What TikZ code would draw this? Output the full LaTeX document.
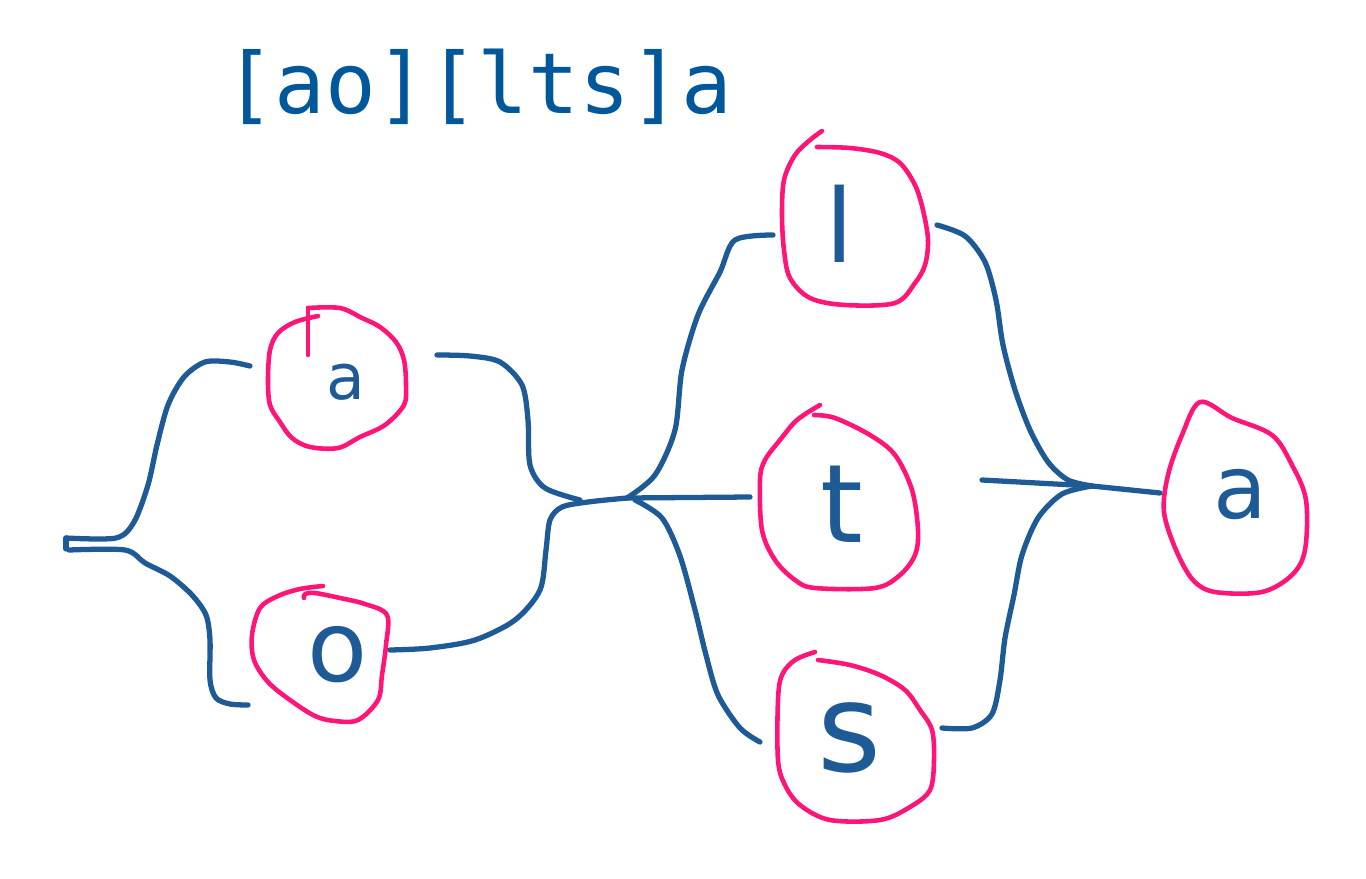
\documentclass[tikz,border=0pt]{standalone}
\usepackage{fontspec}
\setmainfont{DejaVu Sans}
\setmonofont{DejaVu Sans Mono}
\usetikzlibrary{calc}
\definecolor{wire}{RGB}{30,90,150}
\definecolor{ink}{RGB}{0,88,155}
\definecolor{ring}{RGB}{255,20,120}
\begin{document}
\begin{tikzpicture}[x=0.02cm,y=-0.02cm,
  wire/.style={draw=wire,line width=3pt,line cap=round,line join=round},
  ring/.style={draw=ring,line width=2.6pt,line cap=round,line join=round},
  letter/.style={text=wire,inner sep=0pt}]
\useasboundingbox (0,0) rectangle (1366,879);

% title
\node[text=ink,font=\ttfamily\fontsize{48}{52}\selectfont,anchor=base] (title) at (478,113) {[ao][lts]a};

% ring outlines (hand drawn, open at the top)
\draw[ring] (308,355) -- (308,308);
\draw[ring] plot[smooth,tension=0.55] coordinates {(308,308) (340,308) (362,318) (380,327) (396,342) (404,360) (406,385) (404,405) (385,425) (360,437) (338,448) (310,447) (292,438) (280,422) (270,405) (268,380) (270,350) (278,333) (295,322) (318,316)};
\draw[ring] plot[smooth,tension=0.55] coordinates {(323,586) (300,589) (278,596) (260,608) (252,635) (254,660) (268,682) (290,700) (315,716) (335,721) (358,720) (378,700) (382,675) (386,645) (387,615) (365,604) (340,598) (315,593) (305,594) (304,598)};
\draw[ring] plot[smooth,tension=0.55] coordinates {(817,147) (850,148) (880,153) (900,163) (915,185) (923,210) (928,240) (925,265) (915,283) (895,303) (845,305) (810,298) (790,278) (784,250) (782,215) (784,180) (795,155) (810,140) (822,131)};
\draw[ring] plot[smooth,tension=0.55] coordinates {(814,415) (835,418) (870,435) (895,455) (912,490) (918,530) (915,555) (900,575) (875,588) (815,588) (795,580) (775,560) (762,530) (760,480) (765,460) (780,440) (797,420) (820,405)};
\draw[ring] plot[smooth,tension=0.55] coordinates {(818,660) (850,665) (880,675) (905,690) (920,710) (932,730) (934,760) (930,790) (910,807) (880,820) (830,820) (800,805) (785,785) (778,760) (778,700) (782,675) (795,660) (815,652)};
\draw[ring] plot[smooth cycle,tension=0.55] coordinates {(1200,402) (1232,418) (1272,435) (1292,465) (1306,500) (1305,550) (1292,575) (1262,592) (1215,592) (1193,580) (1176,550) (1164,512) (1168,475) (1182,435)};

% letters
\node[letter,font=\fontsize{36}{36}\selectfont] (a1) at (346,382) {a};
\node[letter,font=\fontsize{56}{56}\selectfont] (o) at (338,655) {o};
\node[letter,font=\fontsize{58}{58}\selectfont] (l) at (840,224) {l};
\node[letter,font=\fontsize{62}{62}\selectfont] (t) at (842,504) {t};
\node[letter,font=\fontsize{70}{70}\selectfont] (s) at (850,738) {s};
\node[letter,font=\fontsize{50}{50}\selectfont] (a2) at (1240,495) {a};

% connector end points
\coordinate (start) at (66,543);
\coordinate (a1in) at (250,366);
\coordinate (a1out) at (437,355);
\coordinate (oin) at (248,705);
\coordinate (oout) at (390,650);
\coordinate (j1) at (627,498);
\coordinate (lin) at (773,235);
\coordinate (tin) at (750,497);
\coordinate (sin) at (760,742);
\coordinate (lout) at (937,225);
\coordinate (tout) at (982,480);
\coordinate (sout) at (942,728);
\coordinate (j2) at (1092,486);
\coordinate (a2in) at (1160,493);

% connectors
\draw[wire] ($(start)+(0,-5)$) -- ($(start)+(0,6)$);
\draw[wire] plot[smooth,tension=0.5] coordinates {($(start)+(0,-5)$) (116,538) (134,522) (148,485) (157,445) (168,405) (184,377) (205,362) (230,362) (a1in)};
\draw[wire] plot[smooth,tension=0.5] coordinates {($(start)+(3,7)$) (125,550) (145,563) (170,576) (192,595) (206,615) (210,640) (210,680) (216,698) (230,704) (oin)};
\draw[wire] plot[smooth,tension=0.5] coordinates {(a1out) (470,356) (500,362) (522,385) (528,420) (530,465) (545,488) (580,500)};
\draw[wire] plot[smooth,tension=0.5] coordinates {(oout) (430,648) (475,640) (515,620) (540,590) (546,550) (550,520) (562,507) (588,502) (j1)};
\draw[wire] plot[smooth,tension=0.5] coordinates {(j1) (655,475) (675,430) (682,370) (698,315) (720,272) (735,240) (lin)};
\draw[wire] (j1) -- (tin);
\draw[wire] plot[smooth,tension=0.5] coordinates {(635,500) (662,518) (680,556) (695,610) (706,655) (718,695) (740,728) (sin)};
\draw[wire] plot[smooth,tension=0.5] coordinates {(lout) (965,236) (985,262) (996,300) (1003,345) (1015,390) (1030,430) (1048,462) (1068,480) (j2)};
\draw[wire] (tout) -- (j2);
\draw[wire] plot[smooth,tension=0.5] coordinates {(sout) (972,728) (992,714) (1000,680) (1005,638) (1014,595) (1022,555) (1038,518) (1062,494) (j2)};
\draw[wire] (j2) -- (a2in);
\end{tikzpicture}
\end{document}
